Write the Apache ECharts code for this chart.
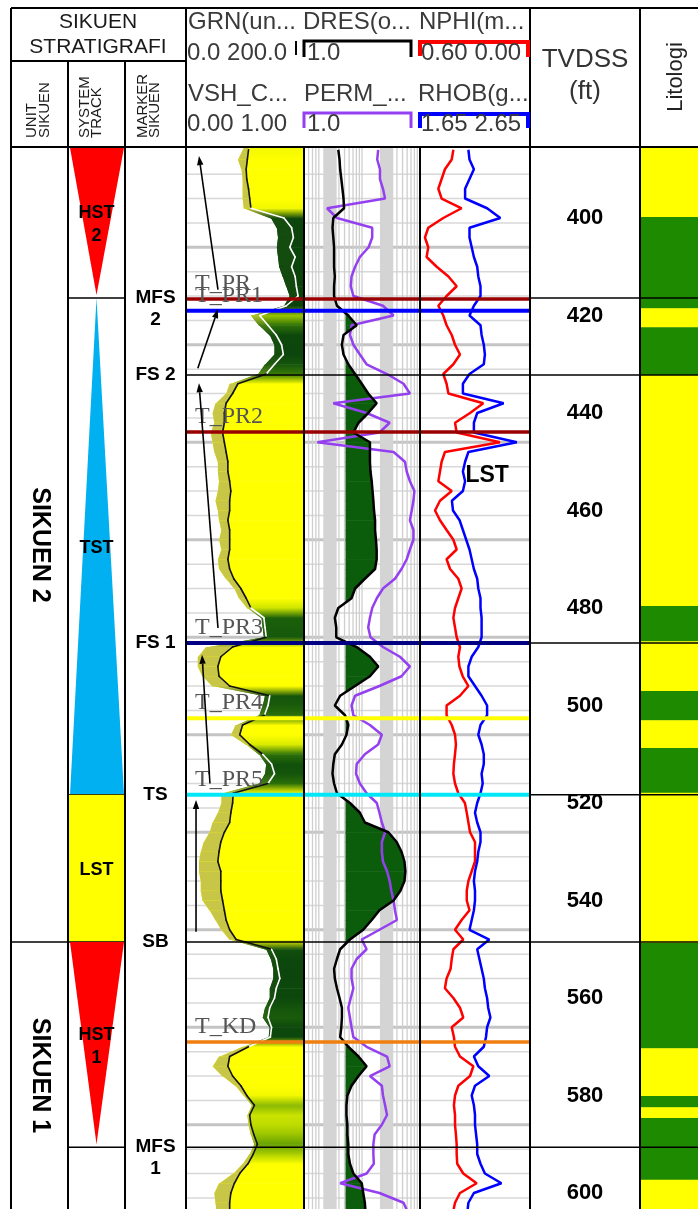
<!DOCTYPE html>
<html>
<head>
<meta charset="utf-8">
<title>Sikuen Stratigrafi</title>
<script src="https://cdn.jsdelivr.net/npm/echarts@6.0.0/dist/echarts.min.js"></script>
<style>
html,body{margin:0;padding:0;background:#fff;}
#chart{width:698px;height:1209px;}
</style>
</head>
<body>
<div id="chart"></div>
<script>
// ---------- well log samples, TVDSS (ft), every 2 ft ----------
const depth = Array.from({length: 110}, (_, i) => 386 + 2 * i);

// VSH_C (fraction) : edge of the shaded fill in the GRN track
const vshC = [
  0.49,0.44,0.47,0.48,0.48,0.48,0.49,0.72,0.77,0.78,
  0.77,0.78,0.79,0.82,0.85,0.88,0.83,0.55,0.62,0.71,
  0.75,0.75,0.67,0.61,0.37,0.34,0.25,0.225,0.24,0.21,
  0.225,0.24,0.27,0.27,0.28,0.27,0.25,0.27,0.28,0.30,
  0.28,0.30,0.27,0.28,0.34,0.41,0.45,0.52,0.64,0.65,
  0.66,0.17,0.10,0.10,0.14,0.225,0.67,0.65,0.62,0.42,
  0.38,0.51,0.62,0.68,0.67,0.62,0.30,0.30,0.27,0.225,
  0.20,0.15,0.125,0.11,0.11,0.125,0.125,0.14,0.20,0.25,
  0.30,0.37,0.68,0.72,0.74,0.74,0.71,0.71,0.67,0.65,
  0.71,0.70,0.48,0.28,0.225,0.31,0.42,0.49,0.56,0.52,
  0.53,0.55,0.58,0.54,0.48,0.40,0.28,0.24,0.25,0.26
];
// GRN (gAPI, 0-200)
const grn = [
  106,104,102,103,106,108,110,166,179,182,
  176,185,179,185,187,190,170,125,139,153,
  162,165,150,136,88,79,68,65,65,62,
  65,68,71,71,74,76,74,74,71,74,
  74,74,71,74,81,93,102,110,132,134,
  136,79,59,54,56,74,142,139,133,96,
  91,108,130,145,150,139,80,79,76,74,
  65,59,56,54,59,59,59,62,65,68,
  74,85,145,153,156,159,153,150,142,139,
  145,143,106,74,71,79,93,103,116,108,
  110,115,121,114,105,91,82,76,74,74
];
// DRES (ohm.m, log)
const dres = [
  3.9,4.1,4.2,4.4,4.6,4.8,4.9,3.2,3.1,3.2,
  3.3,3.3,3.3,3.4,3.3,3.3,3.7,5.8,8.1,4.8,
  4.5,4.8,5.8,7.6,9.9,12.8,17.9,12.8,8.7,7.1,
  13.7,13.7,13.7,14,14.7,15.2,15.7,16.1,16.8,16.8,
  17.4,17.9,17.9,16.8,11.2,7.6,6.6,3.9,3.4,3.6,
  3.6,8.1,13.7,19.1,13.7,7.6,4.2,3.4,5.1,5.8,
  5.4,4.5,3.4,3.2,3.1,3.3,3.7,6.2,9.2,11.2,
  28.5,39.6,48,54,56,54,46,35,20,14.7,
  10.5,6.2,4.2,3.7,3.3,3.4,3.7,4.1,4.5,4.5,
  4.4,4.2,5.8,8.7,12,8.7,6.6,5.6,5.4,5.4,
  5.6,5.6,5.8,5.8,6.2,7.1,9.9,10.5,11.2,11.5
];
// PERM (log)
const perm = [
  19,18.3,20.4,20.4,23,25,2.5,3.7,15,15,
  13,9.2,7.6,6.6,6.4,7.1,23,35,6.6,6.2,
  7.1,9.2,12,27,52,67,3.2,12,30,20,
  1.7,35,55,59,67,80,77,72,67,77,
  77,67,59,48,37,23,18,15,13.7,12.8,
  14,23,45,67,48,20,7.6,6.6,7.1,13.7,
  22,19,11.2,8.1,7.9,9.2,12,18,20,22,
  25,22,22,23,27,30,32,35,37,40,
  20,9.9,12,8.1,6.6,6.6,7.1,6.4,5.8,6.2,
  6.6,7.1,12,27,30,13.7,22,23,25,27,
  22,16.5,15.7,15.7,16,12,4.2,20,52,62
];
// NPHI (v/v, 0.60 - 0.00)
const nphi = [
  0.418,0.427,0.464,0.482,0.50,0.482,0.373,0.473,0.555,0.573,
  0.555,0.564,0.509,0.445,0.40,0.455,0.50,0.473,0.455,0.427,
  0.409,0.382,0.418,0.473,0.455,0.445,0.255,0.327,0.409,0.40,
  0.164,0.464,0.482,0.491,0.50,0.427,0.491,0.518,0.491,0.455,
  0.418,0.40,0.455,0.436,0.391,0.373,0.391,0.409,0.418,0.409,
  0.40,0.382,0.391,0.385,0.367,0.336,0.382,0.455,0.455,0.427,
  0.409,0.404,0.409,0.415,0.418,0.409,0.391,0.355,0.345,0.336,
  0.327,0.30,0.30,0.30,0.318,0.336,0.345,0.345,0.33,0.373,
  0.409,0.364,0.418,0.427,0.433,0.455,0.464,0.418,0.382,0.364,
  0.427,0.415,0.409,0.382,0.309,0.327,0.391,0.409,0.415,0.409,
  0.409,0.404,0.40,0.40,0.397,0.364,0.291,0.382,0.409,0.42
];
// RHOB (g/cc, 1.65 - 2.65)
const rhob = [
  2.09,2.10,2.14,2.10,2.06,2.06,2.26,2.38,2.10,2.10,
  2.12,2.14,2.17,2.18,2.20,2.20,2.14,2.10,2.20,2.21,
  2.23,2.24,2.23,2.10,2.04,2.04,2.41,2.17,2.14,2.14,
  2.53,2.09,2.06,2.04,2.06,2.04,1.94,1.95,2.01,2.04,
  2.07,2.10,2.12,2.14,2.17,2.18,2.20,2.20,2.21,2.21,
  2.21,2.18,2.12,2.09,2.09,2.15,2.21,2.26,2.26,2.20,
  2.18,2.21,2.23,2.23,2.21,2.22,2.20,2.17,2.15,2.17,
  2.20,2.20,2.18,2.17,2.15,2.14,2.15,2.15,2.14,2.12,
  2.10,2.28,2.17,2.19,2.21,2.23,2.24,2.26,2.27,2.29,
  2.26,2.25,2.23,2.14,2.18,2.28,2.15,2.12,2.14,2.15,
  2.15,2.16,2.17,2.17,2.20,2.24,2.39,2.14,2.09,2.08
];

// ---------- well tops crossing the log tracks ----------
const topNames  = ['T_PR','T_PR1','FS 2','T_PR2','T_PR3','T_PR4','T_PR5','SB','T_KD','MFS 1'];
const topDepths = [416.6, 419.0, 432.2, 443.9, 487.2, 502.6, 518.3, 548.5, 569.0, 590.6];

// ---------- sequence surfaces (marker column) ----------
const surfaceNames  = ['MFS\n2','FS 2','FS 1','TS','SB','MFS\n1'];
const surfaceDepths = [416.4, 432.2, 487.2, 518.3, 548.5, 590.6];

// ---------- systems tracts ----------
const tractNames = ['HST\n2','TST','LST','HST\n1'];
const tractKind  = ['HST','TST','LST','HST'];
const tractTop   = [385.6, 416.4, 518.3, 548.5];
const tractBase  = [416.4, 518.3, 548.5, 590.6];

// ---------- sequence units ----------
const unitNames = ['SIKUEN 2','SIKUEN 1'];
const unitTop   = [385.6, 548.5];
const unitBase  = [548.5, 603.3];

// ---------- lithology column ----------
const lithTop  = [385.6,399.8,418.5,422.4,432.2,479.6,486.8,497.0,503.0,508.7,517.9,548.7,570.3,580.1,582.4,584.6,597.3];
const lithType = ['sand','shale','sand','shale','sand','shale','sand','shale','sand','shale','sand','shale','sand','shale','sand','shale','sand'];

// ---------- depth labels ----------
const depthTicks = [400,420,440,460,480,500,520,540,560,580,600];

// ---------- trend arrows in the GRN track: [track fraction, depth] ----------
const arrowFrom = [[0.271,414.7],[0.10,430.8],[0.271,484.1],[0.203,516.0],[0.085,546.4]];
const arrowTo   = [[0.11,387.3],[0.271,418.7],[0.11,433.9],[0.136,489.6],[0.085,519.4]];

// ---------- scale constants ----------
const D_MIN = 385.64, D_MAX = 603.28;
const GRN_MAX = 200;
const DRES_CUTOFF = 5.2;

// ---------- styles ----------
const topStyle = {
  'T_PR':['#990000',3.5], 'T_PR1':['#0000ff',4], 'FS 2':['#000000',1.5],
  'T_PR2':['#990000',3.5], 'T_PR3':['#000080',4], 'T_PR4':['#ffff00',4],
  'T_PR5':['#00e8f8',4], 'SB':['#000000',1.5], 'T_KD':['#f07f10',3.5], 'MFS 1':['#000000',1.5]
};
const SANS = 'Liberation Sans';
const SERIF = 'Liberation Serif';
const RES_FILL = '#0b5d0b';
const LITH_COLOR = {sand:'#ffff00', shale:'#1e8a00'};
const TRACT_COLOR = {HST:'#ff0000', TST:'#00b0f0', LST:'#ffff00'};

// colour of the GRN track fill as a function of VSH
const shadeStops = [[0,255,255,0],[0.48,255,255,0],[0.53,190,220,0],[0.58,100,160,0],[0.63,30,100,10],[0.70,12,72,12],[1,10,60,10]];
function lerp(a, b, t) { return a + (b - a) * t; }
function shade(v) {
  v = Math.max(0, Math.min(1, v));
  for (let k = 1; k < shadeStops.length; k++) {
    const s0 = shadeStops[k - 1], s1 = shadeStops[k];
    if (v <= s1[0]) {
      const t = (v - s0[0]) / ((s1[0] - s0[0]) || 1);
      return [lerp(s0[1], s1[1], t), lerp(s0[2], s1[2], t), lerp(s0[3], s1[3], t)];
    }
  }
  return shadeStops[shadeStops.length - 1].slice(1);
}
function khaki(c) { const t = c[0] / 255; return [lerp(c[0], 200, t), lerp(c[1], 198, t), lerp(c[2], 70, t)]; }
function rgb(c) { return 'rgb(' + c.map(Math.round).join(',') + ')'; }
function vgrad(a, b) {
  return new echarts.graphic.LinearGradient(0, 0, 0, 1, [{offset: 0, color: rgb(a)}, {offset: 1, color: rgb(b)}]);
}

// ---------- layout: one grid per column ----------
const cols = [[11,57],[68,57],[125,61],[186,118],[304,116],[420,110],[530,110],[640,58]];
const grid = cols.map(([l, w]) => ({left: l, top: 148, width: w, height: 1061, outerBoundsMode: 'none', containLabel: false}));
const xAxis = cols.map((c, i) => ({gridIndex: i, type: 'value', min: 0, max: 1, show: false}));
xAxis[4] = {gridIndex: 4, type: 'log', logBase: 10, min: 1, max: 100, show: false};
xAxis[5] = {gridIndex: 5, type: 'value', min: 0, max: 0.6, inverse: true, show: false};
xAxis.push({gridIndex: 3, type: 'value', min: 0, max: GRN_MAX, show: false});    // 8: GRN
xAxis.push({gridIndex: 5, type: 'value', min: 1.65, max: 2.65, show: false});    // 9: RHOB
const yAxis = cols.map((c, i) => ({gridIndex: i, type: 'value', inverse: true, min: D_MIN, max: D_MAX, show: false}));
yAxis[6] = {
  gridIndex: 6, type: 'value', inverse: true, min: D_MIN, max: D_MAX, show: true,
  axisLine: {show: false}, axisTick: {show: false}, splitLine: {show: false},
  axisLabel: {inside: true, margin: 55, align: 'center', color: '#000', fontWeight: 'bold',
              fontSize: 22, fontFamily: SANS, customValues: depthTicks}
};

function custom(xi, yi, data, renderItem, z) {
  return {type: 'custom', coordinateSystem: 'cartesian2d', xAxisIndex: xi, yAxisIndex: yi,
          data, renderItem, z, clip: true, silent: true, animation: false, encode: {x: 0, y: 1}};
}

// horizontal depth grid of the log tracks
const gridDepths = [];
for (let d = 391; d <= 601; d += 5) gridDepths.push([d, (d - 406) % 20 === 0 ? 1 : 0]);
function hGrid(xi, yi, xRef) {
  return custom(xi, yi, gridDepths.map(g => [xRef, g[0], g[1]]), (params, api) => {
    const cs = params.coordSys;
    const y = api.coord([xRef, api.value(1)])[1];
    const major = api.value(2) === 1;
    return {type: 'line', shape: {x1: cs.x, y1: y, x2: cs.x + cs.width, y2: y},
            style: {stroke: major ? '#c4c4c4' : '#d8d8d8', lineWidth: major ? 3 : 1.5}};
  }, 1);
}

// logarithmic grid of the resistivity track
const logLines = [1.2,1.4,1.6,1.8,4,5,6,7,8,9,10,40,50,60,70,80,90];
const logBands = [[2.15,3.66],[20.4,34.6]];
const resGridLines = custom(4, 4, logLines.map(v => [v, D_MIN]), (params, api) => {
  const cs = params.coordSys;
  const x = api.coord([api.value(0), D_MIN])[0];
  return {type: 'line', shape: {x1: x, y1: cs.y, x2: x, y2: cs.y + cs.height}, style: {stroke: '#cfcfcf', lineWidth: 1.3}};
}, 1);
const resGridBands = custom(4, 4, logBands.map(b => [b[0], D_MIN, b[1]]), (params, api) => {
  const cs = params.coordSys;
  const x0 = api.coord([api.value(0), D_MIN])[0], x1 = api.coord([api.value(2), D_MIN])[0];
  return {type: 'rect', shape: {x: x0, y: cs.y, width: x1 - x0, height: cs.height}, style: {fill: '#d4d4d4'}};
}, 1);

// GRN track fill (VSH_C edge to the right border) with khaki band up to the GRN curve
const grnFill = custom(3, 3, depth.map((d, i) => [vshC[i], d]), (params, api) => {
  const i = params.dataIndex;
  if (i >= depth.length - 1) return null;
  const cs = params.coordSys;
  const xr = cs.x + cs.width;
  const p0 = api.coord([vshC[i], depth[i]]);
  const p1 = api.coord([vshC[i + 1], depth[i + 1]]);
  const q0 = Math.max(api.coord([grn[i] / GRN_MAX, depth[i]])[0], p0[0]);
  const q1 = Math.max(api.coord([grn[i + 1] / GRN_MAX, depth[i + 1]])[0], p1[0]);
  const y0 = i === 0 ? cs.y : p0[1];
  const y1 = p1[1] + 0.6;
  const c0 = shade(vshC[i]), c1 = shade(vshC[i + 1]);
  return {type: 'group', children: [
    {type: 'polygon', shape: {points: [[p0[0], y0], [xr, y0], [xr, y1], [p1[0], y1]]}, style: {fill: vgrad(c0, c1)}},
    {type: 'polygon', shape: {points: [[p0[0], y0], [q0, y0], [q1, y1], [p1[0], y1]]}, style: {fill: vgrad(khaki(c0), khaki(c1))}}
  ]};
}, 2);

// GRN curve: white over shale, black over sand
const grnLine = custom(8, 3, depth.map((d, i) => [grn[i], d]), (params, api) => {
  const i = params.dataIndex;
  if (i >= depth.length - 1) return null;
  const a = api.coord([grn[i], depth[i]]), b = api.coord([grn[i + 1], depth[i + 1]]);
  const shaly = (grn[i] + grn[i + 1]) / 2 >= 120;
  return {type: 'line', shape: {x1: a[0], y1: a[1], x2: b[0], y2: b[1]},
          style: {stroke: shaly ? '#ffffff' : '#111111', lineWidth: 1.6, lineCap: 'round'}};
}, 3);

// resistivity cut-off fill
const resFill = custom(4, 4, depth.map((d, i) => [dres[i], d]), (params, api) => {
  const i = params.dataIndex;
  if (i >= depth.length - 1) return null;
  const v0 = dres[i], v1 = dres[i + 1];
  if (v0 <= DRES_CUTOFF && v1 <= DRES_CUTOFF) return null;
  const p0 = api.coord([v0, depth[i]]), p1 = api.coord([v1, depth[i + 1]]);
  const xc = api.coord([DRES_CUTOFF, depth[i]])[0];
  let pts;
  if (v0 > DRES_CUTOFF && v1 > DRES_CUTOFF) {
    pts = [[xc, p0[1]], [p0[0], p0[1]], [p1[0], p1[1] + 0.6], [xc, p1[1] + 0.6]];
  } else {
    const t = (xc - p0[0]) / (p1[0] - p0[0]);
    const yi = p0[1] + t * (p1[1] - p0[1]);
    pts = v0 > DRES_CUTOFF ? [[xc, p0[1]], [p0[0], p0[1]], [xc, yi]] : [[xc, yi], [p1[0], p1[1]], [xc, p1[1]]];
  }
  return {type: 'polygon', shape: {points: pts}, style: {fill: RES_FILL}};
}, 2);

function curve(xi, yi, values, color, width) {
  return {type: 'line', xAxisIndex: xi, yAxisIndex: yi, data: depth.map((d, i) => [values[i], d]),
          symbol: 'none', showSymbol: false, silent: true, animation: false, z: 3,
          lineStyle: {color, width}, emphasis: {disabled: true}};
}

// well tops across a log track
function topsSeries(xi, yi, xRef, withLabels) {
  return custom(xi, yi, topDepths.map((d, k) => [xRef, d, k]), (params, api) => {
    const k = params.dataIndex;
    const cs = params.coordSys;
    const y = api.coord([xRef, topDepths[k]])[1];
    const st = topStyle[topNames[k]];
    const children = [];
    if (withLabels && topNames[k].startsWith('T_')) {
      children.push({type: 'text', x: cs.x + 9, y: y - 3,
        style: {text: topNames[k], fill: '#555555', fontSize: 24, fontFamily: SERIF, align: 'left', verticalAlign: 'bottom'}});
    }
    children.push({type: 'line', shape: {x1: cs.x, y1: y, x2: cs.x + cs.width, y2: y}, style: {stroke: st[0], lineWidth: st[1]}});
    return {type: 'group', children};
  }, 4);
}

// trend arrows
const arrows = custom(3, 3, arrowFrom.map(p => p.slice()), (params, api) => {
  const k = params.dataIndex;
  const a = api.coord(arrowFrom[k]), b = api.coord(arrowTo[k]);
  const dx = b[0] - a[0], dy = b[1] - a[1], len = Math.hypot(dx, dy);
  const ux = dx / len, uy = dy / len, hl = 9, hw = 3.2;
  const bx = b[0] - ux * hl, by = b[1] - uy * hl;
  return {type: 'group', children: [
    {type: 'line', shape: {x1: a[0], y1: a[1], x2: bx, y2: by}, style: {stroke: '#000', lineWidth: 1.6}},
    {type: 'polygon', shape: {points: [[b[0], b[1]], [bx - uy * hw, by + ux * hw], [bx + uy * hw, by - ux * hw]]}, style: {fill: '#000'}}
  ]};
}, 5);

// note in the porosity track
const noteText = ['LST'], noteRhob = [2.26], noteDepth = [452.9];
const notes = custom(9, 5, noteDepth.map((d, k) => [noteRhob[k], d]), (params, api) => {
  const k = params.dataIndex;
  const p = api.coord([noteRhob[k], noteDepth[k]]);
  return {type: 'text', x: p[0], y: p[1],
    style: {text: noteText[k], fill: '#000', fontSize: 23, fontWeight: 'bold', fontFamily: SANS, align: 'center', verticalAlign: 'middle'}};
}, 5);

// marker column labels
const markers = custom(2, 2, surfaceDepths.map(d => [0.5, d]), (params, api) => {
  const k = params.dataIndex;
  const p = api.coord([0.5, surfaceDepths[k]]);
  return {type: 'text', x: p[0], y: p[1] - 11,
    style: {text: surfaceNames[k], fill: '#000', fontSize: 19, fontWeight: 'bold', fontFamily: SANS,
            align: 'center', verticalAlign: 'top', lineHeight: 22}};
}, 5);

// systems tracts
const tracts = custom(1, 1, tractTop.map(d => [0.5, d]), (params, api) => {
  const k = params.dataIndex;
  const cs = params.coordSys;
  const top = api.coord([0.5, tractTop[k]])[1], base = api.coord([0.5, tractBase[k]])[1];
  const l = cs.x + 2, r = cs.x + cs.width - 1, mid = cs.x + cs.width / 2;
  const kind = tractKind[k], fill = TRACT_COLOR[kind];
  let body;
  if (kind === 'HST') body = {type: 'polygon', shape: {points: [[l, top], [r, top], [mid, base - 3]]}, style: {fill}};
  else if (kind === 'TST') body = {type: 'polygon', shape: {points: [[mid, top], [r, base], [l, base]]}, style: {fill}};
  else body = {type: 'rect', shape: {x: cs.x, y: top, width: cs.width, height: base - top}, style: {fill}};
  return {type: 'group', children: [
    body,
    {type: 'line', shape: {x1: cs.x, y1: base, x2: cs.x + cs.width, y2: base}, style: {stroke: '#000', lineWidth: 1.5}},
    {type: 'text', x: mid, y: (top + base) / 2 + 2,
     style: {text: tractNames[k], fill: '#000', fontSize: 18, fontWeight: 'bold', fontFamily: SANS,
             align: 'center', verticalAlign: 'middle', lineHeight: 23}}
  ]};
}, 2);

// sequence units
const units = custom(0, 0, unitTop.map(d => [0.5, d]), (params, api) => {
  const k = params.dataIndex;
  const cs = params.coordSys;
  const top = api.coord([0.5, unitTop[k]])[1], base = api.coord([0.5, unitBase[k]])[1];
  const children = [{type: 'text', x: cs.x + cs.width / 2, y: (top + base) / 2, rotation: -Math.PI / 2,
    style: {text: unitNames[k], fill: '#000', fontSize: 25, fontWeight: 'bold', fontFamily: SANS, align: 'center', verticalAlign: 'middle'}}];
  if (unitBase[k] < D_MAX) children.push({type: 'line', shape: {x1: cs.x, y1: base, x2: cs.x + cs.width, y2: base}, style: {stroke: '#000', lineWidth: 1.5}});
  return {type: 'group', children};
}, 2);

// lithology column
const lith = custom(7, 7, lithTop.map(d => [0.5, d]), (params, api) => {
  const k = params.dataIndex;
  const cs = params.coordSys;
  const top = api.coord([0.5, lithTop[k]])[1];
  const base = api.coord([0.5, k + 1 < lithTop.length ? lithTop[k + 1] : D_MAX])[1];
  return {type: 'rect', shape: {x: cs.x, y: top, width: cs.width, height: base - top + 0.5}, style: {fill: LITH_COLOR[lithType[k]]}};
}, 2);

// surfaces drawn in the depth and lithology columns
function surfaceLines(xi, yi) {
  return custom(xi, yi, surfaceDepths.map(d => [0.5, d]), (params, api) => {
    const cs = params.coordSys;
    const y = api.coord([0.5, surfaceDepths[params.dataIndex]])[1];
    return {type: 'line', shape: {x1: cs.x, y1: y, x2: cs.x + cs.width, y2: y}, style: {stroke: '#000', lineWidth: 1.5}};
  }, 4);
}

// ---------- header and table frame ----------
function txt(text, x, y, o) {
  return {type: 'text', x, y, rotation: o.rot || 0, z: 100, silent: true,
    style: {text, fill: o.color || '#3a3a3a', fontSize: o.size, fontWeight: o.weight || 'normal',
            fontFamily: SANS, align: o.align || 'left', verticalAlign: 'middle'}};
}
function pline(points, stroke, lineWidth) {
  return {type: 'polyline', z: 100, silent: true, shape: {points}, style: {stroke, lineWidth, fill: null}};
}
const frameSegs = [
  [11,8,698,8],[11,8,11,1209],[68,61,68,1209],[125,61,125,1209],[186,8,186,1209],
  [304,147,304,1209],[420,147,420,1209],[530,8,530,1209],[640,8,640,1209],
  [11,61,186,61],[11,147,698,147]
];
const R = Math.PI / 2;
const graphicEls = [
  ...frameSegs.map(s => pline([[s[0], s[1]], [s[2], s[3]]], '#000', 2)),
  txt('SIKUEN', 98, 22, {size: 21, align: 'center', color: '#1a1a1a'}),
  txt('STRATIGRAFI', 98, 47, {size: 21, align: 'center', color: '#1a1a1a'}),
  txt('UNIT', 32, 138, {size: 15, rot: R, color: '#1a1a1a'}),
  txt('SIKUEN', 44.5, 138, {size: 15, rot: R, color: '#1a1a1a'}),
  txt('SYSTEM', 85, 138, {size: 15, rot: R, color: '#1a1a1a'}),
  txt('TRACK', 97, 138, {size: 15, rot: R, color: '#1a1a1a'}),
  txt('MARKER', 143, 138, {size: 15, rot: R, color: '#1a1a1a'}),
  txt('SIKUEN', 155, 138, {size: 15, rot: R, color: '#1a1a1a'}),
  pline([[296,41],[296,55]], '#000', 2),
  pline([[304,57],[304,41],[411,41],[411,57]], '#000', 3),
  pline([[304,128],[304,113],[411,113],[411,128]], '#9440f0', 3),
  pline([[420,56],[420,42],[528,42],[528,57]], '#ff0000', 4),
  pline([[420,128],[420,114],[528,114],[528,128]], '#0000ff', 4),
  txt('GRN(un...', 188, 22, {size: 24}),
  txt('DRES(o...', 303, 22, {size: 24}),
  txt('NPHI(m...', 419, 22, {size: 24}),
  txt('0.0 200.0', 187, 53, {size: 24}),
  txt('1.0', 307, 53, {size: 24}),
  txt('0.60 0.00', 421, 53, {size: 24}),
  txt('VSH_C...', 188, 94, {size: 24}),
  txt('PERM_...', 304, 94, {size: 24}),
  txt('RHOB(g...', 418, 94, {size: 24}),
  txt('0.00 1.00', 187, 124, {size: 24}),
  txt('1.0', 307, 124, {size: 24}),
  txt('1.65 2.65', 421, 124, {size: 24}),
  txt('TVDSS', 585, 60, {size: 26, align: 'center', color: '#333'}),
  txt('(ft)', 585, 92, {size: 26, align: 'center', color: '#333'}),
  txt('Litologi', 676, 77, {size: 22, rot: R, align: 'center', color: '#222'})
];

const option = {
  animation: false,
  backgroundColor: '#ffffff',
  grid, xAxis, yAxis,
  series: [
    hGrid(3, 3, 0.5), hGrid(4, 4, 1), hGrid(5, 5, 0.3),
    resGridBands, resGridLines,
    grnFill, grnLine,
    resFill,
    curve(4, 4, perm, '#9440f0', 2.5),
    curve(4, 4, dres, '#000000', 2.5),
    curve(5, 5, nphi, '#ff0000', 2.5),
    curve(9, 5, rhob, '#0000ff', 2.5),
    topsSeries(3, 3, 0.5, true), topsSeries(4, 4, 1, false), topsSeries(5, 5, 0.3, false),
    arrows, notes, markers, tracts, units, lith,
    surfaceLines(6, 6), surfaceLines(7, 7)
  ],
  graphic: {elements: graphicEls}
};

const chart = echarts.init(document.getElementById('chart'), null, {renderer: 'canvas'});
chart.setOption(option);
</script>
</body>
</html>
